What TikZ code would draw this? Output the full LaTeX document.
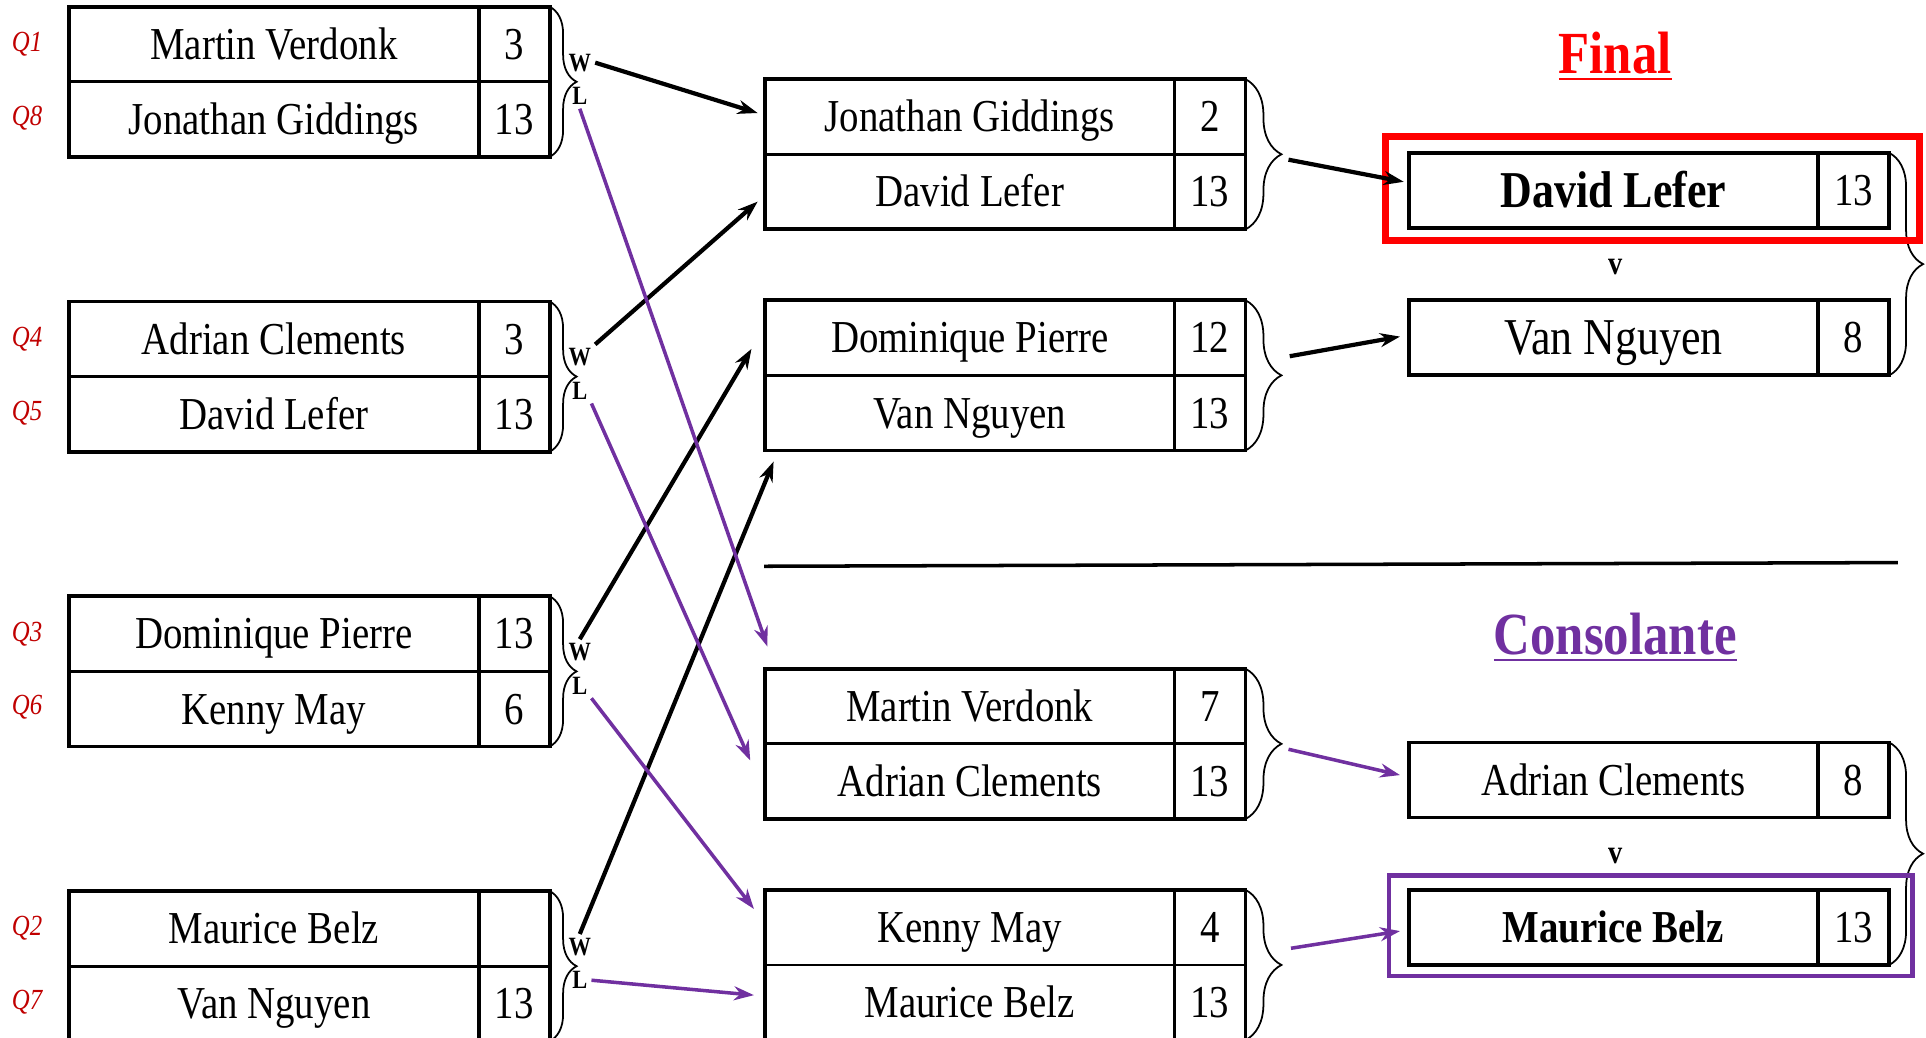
\documentclass[tikz,border=0pt]{standalone}
\usepackage{fontspec}
\setmainfont{Liberation Serif}[FakeStretch=0.85]
\usetikzlibrary{positioning,arrows.meta,decorations.pathreplacing}
\definecolor{qred}{HTML}{C00000}
\definecolor{cpurple}{HTML}{7030A0}
\tikzset{
  cell/.style={draw, line width=0.4pt, minimum height=7.37mm, inner sep=0pt, text height=11pt, text depth=2.4pt, font=\fontsize{13}{15}\selectfont},
  namecell/.style={cell, minimum width=40.8mm},
  scorecell/.style={cell, minimum width=6.95mm},
  bigcell/.style={font=\fontsize{14.7}{17}\selectfont, text height=12.2pt, text depth=2.5pt},
  matchframe/.style={line width=1.1pt},
  wlbrace/.style={decorate, decoration={brace, amplitude=#1}, line width=0.5pt},
  qlab/.style={text=qred, font=\fontsize{8.3}{9}\selectfont\itshape},
  wl/.style={font=\fontsize{7.5}{8}\selectfont\bfseries, inner sep=1pt},
  vs/.style={font=\fontsize{9.5}{10}\selectfont\bfseries},
  title/.style={font=\fontsize{17}{19}\selectfont\bfseries},
  winarrow/.style={-{Stealth[length=2mm, width=1.4mm]}, line width=1.2pt},
  losearrow/.style={-{Stealth[length=2mm, width=1.4mm]}, line width=1pt, draw=cpurple},
}
\begin{document}
\begin{tikzpicture}[x=0.1228mm, y=-0.1228mm]
\useasboundingbox (0,0) rectangle (1568,845);
% quarts
\node[namecell] (q1) at (223,36) {Martin Verdonk};
\node[scorecell, right=0pt of q1] (q1s) {3};
\node[namecell, below=0pt of q1] (q8) {Jonathan Giddings};
\node[scorecell, right=0pt of q8] (q8s) {13};
\node[namecell] (q4) at (223,276) {Adrian Clements};
\node[scorecell, right=0pt of q4] (q4s) {3};
\node[namecell, below=0pt of q4] (q5) {David Lefer};
\node[scorecell, right=0pt of q5] (q5s) {13};
\node[namecell] (q3) at (223,516) {Dominique Pierre};
\node[scorecell, right=0pt of q3] (q3s) {13};
\node[namecell, below=0pt of q3] (q6) {Kenny May};
\node[scorecell, right=0pt of q6] (q6s) {6};
\node[namecell] (q2) at (223,756) {Maurice Belz};
\node[scorecell, right=0pt of q2] (q2s) {};
\node[namecell, below=0pt of q2] (q7) {Van Nguyen};
\node[scorecell, right=0pt of q7] (q7s) {13};
\node[qlab] (lq1) at (22,36) {Q1};
\node[qlab] (lq8) at (22,96) {Q8};
\node[qlab] (lq4) at (22,276) {Q4};
\node[qlab] (lq5) at (22,336) {Q5};
\node[qlab] (lq3) at (22,516) {Q3};
\node[qlab] (lq6) at (22,576) {Q6};
\node[qlab] (lq2) at (22,756) {Q2};
\node[qlab] (lq7) at (22,816) {Q7};
\draw[matchframe] (q1.north west) rectangle (q8s.south east);
\draw[matchframe] (q1s.north west) -- (q8s.south west);
\draw[matchframe] (q4.north west) rectangle (q5s.south east);
\draw[matchframe] (q4s.north west) -- (q5s.south west);
\draw[matchframe] (q3.north west) rectangle (q6s.south east);
\draw[matchframe] (q3s.north west) -- (q6s.south west);
\draw[matchframe] (q2.north west) rectangle (q7s.south east);
\draw[matchframe] (q2s.north west) -- (q7s.south west);
\draw[wlbrace=2.7mm] (q1s.north east) -- (q8s.south east);
\draw[wlbrace=2.7mm] (q4s.north east) -- (q5s.south east);
\draw[wlbrace=2.7mm] (q3s.north east) -- (q6s.south east);
\draw[wlbrace=2.7mm] (q2s.north east) -- (q7s.south east);
\node[wl] (w1) at (472,51) {W};
\node[wl] (l1) at (472,78) {L};
\node[wl] (w2) at (472,291) {W};
\node[wl] (l2) at (472,318) {L};
\node[wl] (w3) at (472,531) {W};
\node[wl] (l3) at (472,558) {L};
\node[wl] (w4) at (472,771) {W};
\node[wl] (l4) at (472,798) {L};
% demies
\node[namecell] (s1a) at (789.5,95) {Jonathan Giddings};
\node[scorecell, right=0pt of s1a] (s1as) {2};
\node[namecell, below=0pt of s1a] (s1b) {David Lefer};
\node[scorecell, right=0pt of s1b] (s1bs) {13};
\node[namecell] (s2a) at (789.5,275) {Dominique Pierre};
\node[scorecell, right=0pt of s2a] (s2as) {12};
\node[namecell, below=0pt of s2a] (s2b) {Van Nguyen};
\node[scorecell, right=0pt of s2b] (s2bs) {13};
\node[namecell] (c1a) at (789.5,575) {Martin Verdonk};
\node[scorecell, right=0pt of c1a] (c1as) {7};
\node[namecell, below=0pt of c1a] (c1b) {Adrian Clements};
\node[scorecell, right=0pt of c1b] (c1bs) {13};
\node[namecell] (c2a) at (789.5,755) {Kenny May};
\node[scorecell, right=0pt of c2a] (c2as) {4};
\node[namecell, below=0pt of c2a] (c2b) {Maurice Belz};
\node[scorecell, right=0pt of c2b] (c2bs) {13};
\draw[matchframe] (s1a.north west) rectangle (s1bs.south east);
\draw[matchframe] (s1as.north west) -- (s1bs.south west);
\draw[matchframe] (s2a.north west) rectangle (s2bs.south east);
\draw[matchframe] (s2as.north west) -- (s2bs.south west);
\draw[matchframe] (c1a.north west) rectangle (c1bs.south east);
\draw[matchframe] (c1as.north west) -- (c1bs.south west);
\draw[matchframe] (c2a.north west) rectangle (c2bs.south east);
\draw[matchframe] (c2as.north west) -- (c2bs.south west);
\draw[wlbrace=3.6mm] (s1as.north east) -- (s1bs.south east);
\draw[wlbrace=3.6mm] (s2as.north east) -- (s2bs.south east);
\draw[wlbrace=3.6mm] (c1as.north east) -- (c1bs.south east);
\draw[wlbrace=3.6mm] (c2as.north east) -- (c2bs.south east);
% quarts -> demies
\draw[winarrow] (w1.east) -- ([shift={(-6,-3)}]s1a.west);
\draw[winarrow] (w2.north east) -- ([shift={(-6,8)}]s1b.west);
\draw[winarrow] (w3.north) -- ([shift={(-11,9)}]s2a.west);
\draw[winarrow] (w4.north) -- ([shift={(7,9)}]s2b.south west);
\draw[losearrow] (l1.south) -- ([shift={(2,-18)}]c1a.north west);
\draw[losearrow] (l2.south east) -- ([shift={(-12,-17)}]c1b.west);
\draw[losearrow] (l3.south east) -- ([shift={(-9,-15)}]c2a.west);
\draw[losearrow] (l4.east) -- ([shift={(-9,-6)}]c2b.west);
% finales
\node[title, text=red] (final) at (1315,46) {\underline{Final}};
\node[namecell, bigcell] (fa) at (1313.5,155) {\textbf{David Lefer}};
\node[scorecell, right=0pt of fa] (fas) {13};
\node[vs] (v1) at (1315,217) {v};
\node[namecell, bigcell] (fb) at (1313.5,275) {Van Nguyen};
\node[scorecell, right=0pt of fb] (fbs) {8};
\draw[matchframe] (fa.north west) rectangle (fas.south east);
\draw[matchframe] (fas.north west) -- (fas.south west);
\draw[matchframe] (fb.north west) rectangle (fbs.south east);
\draw[matchframe] (fbs.north west) -- (fbs.south west);
\draw[wlbrace=3.4mm] (fas.north east) -- (fbs.south east);
\draw[red, line width=2pt] ([shift={(-19,-13)}]fa.north west) rectangle ([shift={(25,10)}]fas.south east);
\draw[line width=1pt] (622,461) -- (1545,458);
\node[title, text=cpurple] (cons) at (1315,519) {\underline{Consolante}};
\node[namecell] (ca) at (1313.5,635) {Adrian Clements};
\node[scorecell, right=0pt of ca] (cas) {8};
\node[vs] (v2) at (1315,697) {v};
\node[namecell] (cb) at (1313.5,755) {\textbf{Maurice Belz}};
\node[scorecell, right=0pt of cb] (cbs) {13};
\draw[matchframe] (ca.north west) rectangle (cas.south east);
\draw[matchframe] (cas.north west) -- (cas.south west);
\draw[matchframe] (cb.north west) rectangle (cbs.south east);
\draw[matchframe] (cbs.north west) -- (cbs.south west);
\draw[wlbrace=3.4mm] (cas.north east) -- (cbs.south east);
\draw[cpurple, line width=1.4pt] ([shift={(-16,-12)}]cb.north west) rectangle ([shift={(19,9)}]cbs.south east);
% demies -> finales
\coordinate (t1) at (1049,130);
\coordinate (t2) at (1050,290);
\coordinate (t3) at (1049,610);
\coordinate (t4) at (1051,772);
\draw[winarrow] (t1) -- ([shift={(-4,-7)}]fa.west);
\draw[winarrow] (t2) -- ([shift={(-7,-1)}]fb.west);
\draw[losearrow] (t3) -- ([shift={(-7,-4)}]ca.west);
\draw[losearrow] (t4) -- ([shift={(-7,3)}]cb.west);
\end{tikzpicture}
\end{document}
